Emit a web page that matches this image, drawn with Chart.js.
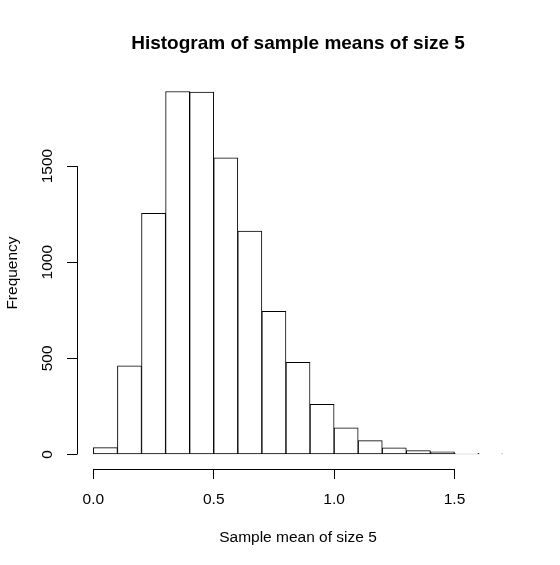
<!DOCTYPE html>
<html>
<head>
<meta charset="utf-8">
<script src="https://cdn.jsdelivr.net/npm/chart.js@4.4.1/dist/chart.umd.min.js"></script>
<style>
body { margin: 0; background: #fff; }
</style>
</head>
<body>
<canvas id="sampleMeans" width="560" height="565"></canvas>
<script>
// histogram bins (lower edges) and counts
var binStarts = [0.0, 0.1, 0.2, 0.3, 0.4, 0.5, 0.6, 0.7, 0.8, 0.9, 1.0, 1.1, 1.2, 1.3, 1.4, 1.5, 1.6];
var binWidth = 0.1;
var counts = [36, 461, 1254, 1888, 1885, 1543, 1162, 745, 479, 261, 139, 72, 35, 20, 14, 6, 3];
var xTicks = [0, 0.5, 1.0, 1.5];
var yTicks = [0, 500, 1000, 1500];

var FONT = '"Liberation Sans", Arial, Helvetica, sans-serif';
Chart.defaults.color = '#000';
Chart.defaults.font.family = FONT;

// R style axes: line only from first to last tick, rotated y labels, main title
var rAxes = {
    id: 'rAxes',
    afterDraw: function(chart) {
        var ctx = chart.ctx;
        var x = chart.scales.x, y = chart.scales.y;
        var area = chart.chartArea;
        ctx.save();
        ctx.strokeStyle = '#000';
        ctx.lineWidth = 1;
        ctx.beginPath();
        var yb = Math.round(area.bottom) + 0.5;
        ctx.moveTo(x.getPixelForValue(xTicks[0]), yb);
        ctx.lineTo(x.getPixelForValue(xTicks[xTicks.length - 1]), yb);
        var xl = Math.round(area.left) + 0.5;
        ctx.moveTo(xl, y.getPixelForValue(yTicks[0]));
        ctx.lineTo(xl, y.getPixelForValue(yTicks[yTicks.length - 1]));
        ctx.stroke();

        ctx.fillStyle = '#000';
        ctx.font = '15.5px ' + FONT;
        ctx.textAlign = 'center';
        ctx.textBaseline = 'middle';
        yTicks.forEach(function(v) {
            ctx.save();
            ctx.translate(48, y.getPixelForValue(v));
            ctx.rotate(-Math.PI / 2);
            ctx.fillText(String(v), 0, 0);
            ctx.restore();
        });

        ctx.font = 'bold 19px ' + FONT;
        ctx.fillText('Histogram of sample means of size 5', (area.left + area.right) / 2, 44);
        ctx.restore();
    }
};

var ctx = document.getElementById('sampleMeans').getContext('2d');

var histChart = new Chart(ctx, {
    type: 'bar',
    data: {
        datasets: [{
            label: 'Frequency',
            data: binStarts.map(function(s, i) {
                return { x: s + binWidth / 2, y: counts[i] };
            }),
            backgroundColor: '#fff',
            borderColor: '#000',
            borderWidth: 1,
            borderSkipped: false,
            barPercentage: 1,
            categoryPercentage: 1
        }]
    },
    options: {
        responsive: false,
        animation: false,
        layout: { padding: { left: 0, top: 77, right: 41, bottom: 0 } },
        plugins: {
            legend: { display: false },
            tooltip: { enabled: false }
        },
        scales: {
            x: {
                type: 'linear',
                min: -0.068,
                max: 1.768,
                offset: false,
                afterBuildTicks: function(s) {
                    s.ticks = xTicks.map(function(v) { return { value: v }; });
                },
                afterFit: function(s) { s.height = 96; },
                border: { display: false },
                grid: { offset: false, drawOnChartArea: false, tickLength: 10, color: '#000' },
                ticks: {
                    padding: 11,
                    maxRotation: 0,
                    font: { size: 15.5 },
                    callback: function(v) { return v.toFixed(1); }
                },
                title: {
                    display: true,
                    text: 'Sample mean of size 5',
                    font: { size: 15.5 },
                    padding: { top: 0, bottom: 18 }
                }
            },
            y: {
                min: -75.5,
                max: 1963.5,
                afterBuildTicks: function(s) {
                    s.ticks = yTicks.map(function(v) { return { value: v }; });
                },
                afterFit: function(s) { s.width = 77; },
                border: { display: false },
                grid: { drawOnChartArea: false, tickLength: 10, color: '#000' },
                ticks: { display: false },
                title: {
                    display: true,
                    text: 'Frequency',
                    font: { size: 15.5 },
                    padding: { top: 3, bottom: 0 }
                }
            }
        }
    },
    plugins: [rAxes]
});
</script>
</body>
</html>
